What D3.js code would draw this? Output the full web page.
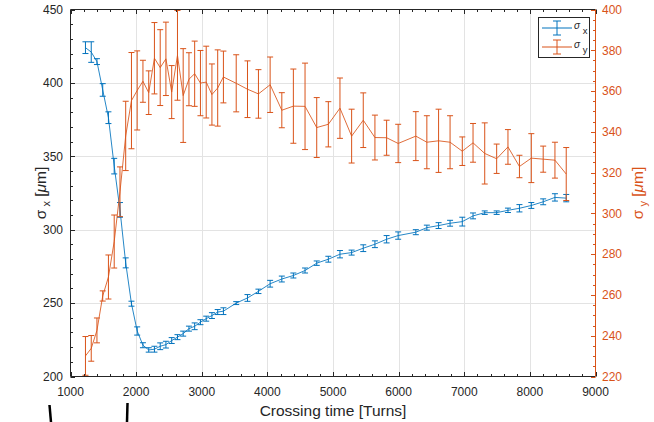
<!DOCTYPE html>
<html><head><meta charset="utf-8">
<script src="https://cdn.jsdelivr.net/npm/d3@7"></script>
<style>
body{margin:0;background:#fff}
svg{display:block}
text{font-family:"Liberation Sans",Arial,Helvetica,sans-serif}
</style>
</head><body>
<svg id="c" width="654" height="422"></svg>
<script>
// ---- data ----
const turns = [1228,1316,1403,1491,1578,1666,1754,1841,1929,2016,2104,2192,2279,2367,2454,2542,2630,2717,2805,2892,2980,3068,3155,3243,3330,
  3525,3697,3864,4042,4220,4396,4574,4752,4929,5106,5284,5461,5639,5817,5993,
  6262,6430,6609,6784,6970,7134,7312,7494,7666,7841,8022,8203,8382,8554];
const sigmaX = [424,421,414.5,395.2,376.3,343.3,313.5,277.4,249.6,231,221.3,218.1,218.6,220.6,221.7,224.5,226.8,229.2,232.6,234.2,237,239.4,241.5,243.9,244.5,
  250,253.5,258,263.2,266.4,268.8,272.2,277.2,279.9,283.3,284.4,287.4,290.1,293.5,296,
  298.3,301.4,302.8,304.4,305.5,309.4,311.6,311.6,313.2,314.6,316.5,319,322,321.5];
const sigmaXErr = [4,7,2,4.3,4,5.3,5,3.4,1.7,2.8,1.7,1.5,2,2.3,2.3,2,1.7,1.7,1.7,2.3,1.7,1.7,2,1.7,2.3,
  1,2.3,1.5,2.3,2,1.7,1.7,1.5,2,2.5,1.7,2.3,2.3,2.5,2.5,
  1.7,1.7,2,2,3,2,1.2,1.2,1.5,2.5,2,2,2.5,2.5];
const sigmaY = [230.1,233.8,242.6,259.5,268.8,286.2,310.6,338,355.3,360.3,364.8,359.2,376.1,371.5,375.8,359.5,377.5,357.8,365.8,368.5,363.9,364.4,358.3,361.5,366.9,
  363.8,360.9,358.6,363.1,350.6,352.6,352.5,342.1,343.7,351.6,337.9,345.7,337.2,337.1,334.3,
  337.9,334.9,335.6,334.9,330.5,334.6,329.4,326.8,332.6,323,327.1,326.6,326.1,319.3];
const sigmaYErr = [9.5,6.3,6.1,2.5,10.8,13,12.2,17,23.6,19.4,10.3,10.7,17.5,18.6,18,13,22,23,13,16,16,17.6,15,18.7,12.7,
  14,13.9,11.9,13.6,8.6,18.2,21.2,14.7,11.1,14.8,13.2,13.4,11,8.6,9.4,
  12,13,15.5,13,7,9.5,15,7.2,8.5,5.5,12,6.4,8.8,13];
const xTicks = [1000,2000,3000,4000,5000,6000,7000,8000,9000];
const yLeftTicks = [200,250,300,350,400,450];
const yRightTicks = [220,240,260,280,300,320,340,360,380,400];
const xLabel = "Crossing time [Turns]";
const legendNames = ["x","y"];

// ---- drawing ----
const BLUE = "#0072BD", ORANGE = "#D95319", AX = "#262626";
const svg = d3.select("#c");
const L = 70.5, R = 595.5, T = 9.5, B = 376.5;
const x = d3.scaleLinear().domain([1000, 9000]).range([L, R]);
const yL = d3.scaleLinear().domain([200, 450]).range([B, T]);
const yR = d3.scaleLinear().domain([220, 400]).range([B, T]);

// grid
const grid = svg.append("g").attr("stroke", "#e3e3e3").attr("stroke-width", 1);
xTicks.slice(1, -1).forEach(t => grid.append("line")
  .attr("x1", Math.round(x(t)) + 0.5).attr("x2", Math.round(x(t)) + 0.5).attr("y1", T).attr("y2", B));
yLeftTicks.slice(1, -1).forEach(t => grid.append("line")
  .attr("y1", Math.round(yL(t)) + 0.5).attr("y2", Math.round(yL(t)) + 0.5).attr("x1", L).attr("x2", R));

function series(vals, errs, yScale, color) {
  const g = svg.append("g").attr("stroke", color).attr("fill", "none").attr("stroke-width", 1);
  const pts = turns.map((t, i) => [x(t), yScale(vals[i])]);
  g.append("path").attr("d", d3.line()(pts)).attr("stroke-opacity", 0.85);
  turns.forEach((t, i) => {
    const cx = x(t), y1 = yScale(vals[i] + errs[i]), y2 = yScale(vals[i] - errs[i]);
    g.append("line").attr("x1", cx).attr("x2", cx).attr("y1", y1).attr("y2", y2);
    g.append("line").attr("x1", cx - 3).attr("x2", cx + 3).attr("y1", y1).attr("y2", y1);
    g.append("line").attr("x1", cx - 3).attr("x2", cx + 3).attr("y1", y2).attr("y2", y2);
  });
}
series(sigmaX, sigmaXErr, yL, BLUE);
series(sigmaY, sigmaYErr, yR, ORANGE);

// axes
const ax = svg.append("g").attr("stroke-width", 1);
ax.append("line").attr("x1", L).attr("x2", R).attr("y1", B).attr("y2", B).attr("stroke", AX);
ax.append("line").attr("x1", L).attr("x2", R).attr("y1", T).attr("y2", T).attr("stroke", AX);
ax.append("line").attr("x1", L).attr("x2", L).attr("y1", T).attr("y2", B).attr("stroke", AX);
ax.append("line").attr("x1", R).attr("x2", R).attr("y1", T).attr("y2", B).attr("stroke", ORANGE);

// x ticks (bottom & top), minor every 200
d3.range(1000, 9001, 200).forEach(t => {
  const major = t % 1000 === 0, len = major ? 4.5 : 2.5, px = Math.round(x(t)) + 0.5;
  ax.append("line").attr("x1", px).attr("x2", px).attr("y1", B).attr("y2", B - len).attr("stroke", AX);
  ax.append("line").attr("x1", px).attr("x2", px).attr("y1", T).attr("y2", T + len).attr("stroke", AX);
});
// left y ticks, minor every 10
d3.range(200, 451, 10).forEach(v => {
  const major = v % 50 === 0, len = major ? 4.5 : 2.5, py = Math.round(yL(v)) + 0.5;
  ax.append("line").attr("x1", L).attr("x2", L + len).attr("y1", py).attr("y2", py).attr("stroke", AX);
});
// right y ticks, minor every 5
d3.range(220, 401, 5).forEach(v => {
  const major = v % 20 === 0, len = major ? 4.5 : 2.5, py = Math.round(yR(v)) + 0.5;
  ax.append("line").attr("x1", R).attr("x2", R - len).attr("y1", py).attr("y2", py).attr("stroke", ORANGE);
});

const lab = svg.append("g").attr("font-size", 12);
xTicks.forEach(t => lab.append("text").attr("x", x(t)).attr("y", 396)
  .attr("text-anchor", "middle").attr("fill", AX).text(t));
yLeftTicks.forEach(v => lab.append("text").attr("x", 63).attr("y", yL(v) + 4.3)
  .attr("text-anchor", "end").attr("fill", AX).text(v));
yRightTicks.forEach(v => lab.append("text").attr("x", 602).attr("y", yR(v) + 4.3)
  .attr("text-anchor", "start").attr("fill", ORANGE).text(v));

// axis titles
svg.append("text").attr("x", (L + R) / 2).attr("y", 416).attr("text-anchor", "middle")
  .attr("font-size", 15.5).attr("fill", AX).text(xLabel);

function yTitle(px, sub, color) {
  const t = svg.append("text").attr("transform", `translate(${px},${(T + B) / 2}) rotate(-90)`)
    .attr("text-anchor", "middle").attr("font-size", 15.5).attr("fill", color);
  t.append("tspan").text("σ");
  t.append("tspan").attr("dy", 4).attr("font-size", 11).text(" " + sub);
  t.append("tspan").attr("dy", -4).text(" [");
  t.append("tspan").attr("font-style", "italic").text("μ");
  t.append("tspan").text("m]");
}
yTitle(46, "x", AX);
yTitle(643, "y", ORANGE);

// legend
const lg = svg.append("g");
lg.append("rect").attr("x", 538.5).attr("y", 17.5).attr("width", 51).attr("height", 40)
  .attr("fill", "#fff").attr("stroke", AX).attr("stroke-width", 1);
[[BLUE, 28], [ORANGE, 47]].forEach(([c, ly], i) => {
  const g = lg.append("g").attr("stroke", c).attr("stroke-width", 1);
  g.append("line").attr("x1", 542).attr("x2", 572).attr("y1", ly).attr("y2", ly);
  g.append("line").attr("x1", 557).attr("x2", 557).attr("y1", ly - 7).attr("y2", ly + 7);
  g.append("line").attr("x1", 553).attr("x2", 561).attr("y1", ly - 7).attr("y2", ly - 7);
  g.append("line").attr("x1", 553).attr("x2", 561).attr("y1", ly + 7).attr("y2", ly + 7);
  const t = lg.append("text").attr("x", 574).attr("y", ly + 1).attr("font-size", 10).attr("fill", AX);
  t.append("tspan").attr("font-style", "italic").text("σ");
  t.append("tspan").attr("dy", 5).attr("font-size", 9.5).text(" " + legendNames[i]);
});

// stray marks at the bottom of the picture
svg.append("line").attr("x1", 49.5).attr("y1", 405).attr("x2", 51).attr("y2", 422)
  .attr("stroke", "#000").attr("stroke-width", 2.5);
svg.append("line").attr("x1", 127.5).attr("y1", 403).attr("x2", 127).attr("y2", 422)
  .attr("stroke", "#000").attr("stroke-width", 2.5);
</script>
</body></html>
